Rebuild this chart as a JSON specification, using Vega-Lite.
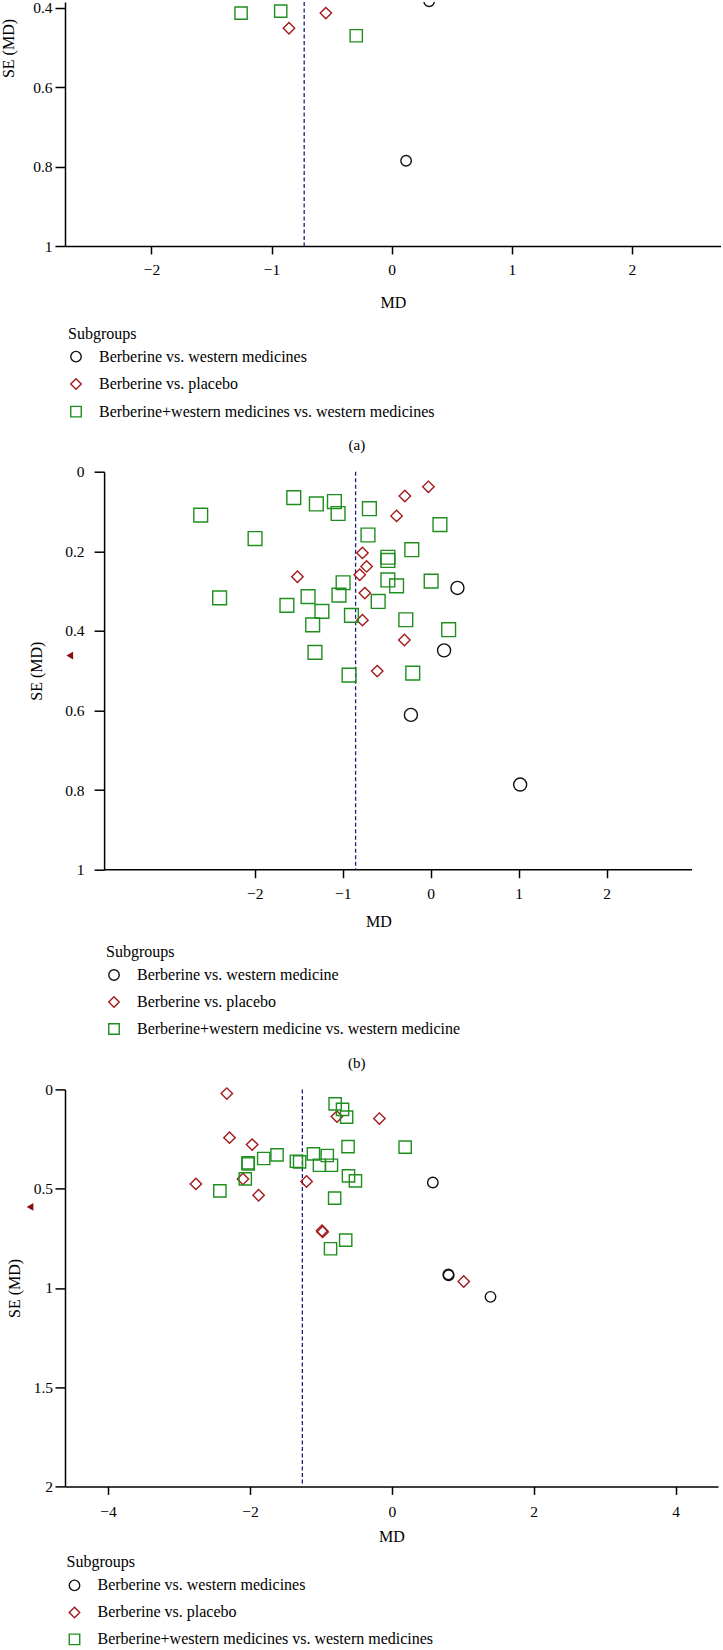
{
  "$schema": "https://vega.github.io/schema/vega-lite/v6.json",
  "padding": 0,
  "spacing": 11.7,
  "background": "white",
  "config": {
    "font": "Liberation Serif",
    "view": {"stroke": null},
    "axis": {
      "grid": false,
      "domainColor": "#000000",
      "domainWidth": 1.5,
      "tickColor": "#000000",
      "tickWidth": 1.5,
      "labelColor": "#000000",
      "labelFont": "Liberation Serif",
      "labelFontSize": 15.5,
      "titleFont": "Liberation Serif",
      "titleFontSize": 16,
      "titleFontWeight": "normal",
      "titleColor": "#000000",
      "labelFlush": false,
      "labelOverlap": false,
      "format": "~g"
    },
    "axisY": {"labelAlign": "right", "labelBaseline": "middle"},
    "legend": {
      "padding": 0,
      "titleFont": "Liberation Serif",
      "titleFontSize": 16,
      "titleFontWeight": "normal",
      "titleColor": "#000000",
      "labelFont": "Liberation Serif",
      "labelFontSize": 16,
      "labelColor": "#000000",
      "labelLimit": 0,
      "symbolSize": 110,
      "symbolStrokeWidth": 1.4,
      "labelOffset": 15,
      "titlePadding": 7
    },
    "title": {"font": "Liberation Serif", "fontSize": 15, "fontWeight": "normal", "color": "#000000"}
  },
  "resolve": {
    "scale": {"x": "independent", "y": "independent", "color": "independent", "shape": "independent"},
    "legend": {"color": "independent", "shape": "independent"}
  },
  "vconcat": [
    {
      "width": 656,
      "height": 244,
      "title": {"text": "(a)", "orient": "bottom", "anchor": "middle", "frame": "bounds", "offset": 17, "dx": -4},
      "layer": [
        {
          "data": {"values": [{"line": "pooled"}]},
          "mark": {"type": "rule", "color": "#1b1f7a", "strokeDash": [4, 2.5], "strokeWidth": 1.3},
          "encoding": {"x": {"datum": -0.7285, "type": "quantitative"}}
        },
        {
          "data": {"values": [
            {"MD": 0.312, "SE": 0.383, "group": "Berberine vs. western medicines"},
            {"MD": 0.120, "SE": 0.785, "group": "Berberine vs. western medicines"},
            {"MD": -0.855, "SE": 0.451, "group": "Berberine vs. placebo"},
            {"MD": -0.548, "SE": 0.413, "group": "Berberine vs. placebo"},
            {"MD": -1.254, "SE": 0.413, "group": "Berberine+western medicines vs. western medicines"},
            {"MD": -0.924, "SE": 0.408, "group": "Berberine+western medicines vs. western medicines"},
            {"MD": -0.295, "SE": 0.470, "group": "Berberine+western medicines vs. western medicines"}
          ]},
          "mark": {"type": "point", "filled": false, "strokeWidth": 1.4, "opacity": 1, "clip": true},
          "encoding": {
            "x": {"field": "MD", "type": "quantitative",
              "scale": {"domain": [-2.72, 2.742], "nice": false, "zero": false},
              "axis": {"values": [-2, -1, 0, 1, 2], "tickSize": 8, "labelPadding": 8, "title": "MD", "titlePadding": 16.5}},
            "y": {"field": "SE", "type": "quantitative",
              "scale": {"domain": [0.385, 1], "reverse": true, "nice": false, "zero": false},
              "axis": {"values": [0.4, 0.6, 0.8, 1], "tickSize": 10, "labelPadding": 3, "title": "SE (MD)", "titlePadding": 16, "titleY": 46}},
            "color": {"field": "group", "type": "nominal",
              "scale": {"domain": ["Berberine vs. western medicines", "Berberine vs. placebo", "Berberine+western medicines vs. western medicines"], "range": ["#111111", "#a3191b", "#1e8e1e"]},
              "legend": {"orient": "none", "legendX": 3, "legendY": 323.6, "title": "\u00a0\u00a0\u00a0Subgroups", "rowPadding": 9.5}},
            "shape": {"field": "group", "type": "nominal",
              "scale": {"domain": ["Berberine vs. western medicines", "Berberine vs. placebo", "Berberine+western medicines vs. western medicines"], "range": ["circle", "diamond", "square"]},
              "legend": {"orient": "none", "legendX": 3, "legendY": 323.6, "title": "\u00a0\u00a0\u00a0Subgroups", "rowPadding": 9.5}},
            "size": {"field": "group", "type": "nominal", "legend": null,
              "scale": {"domain": ["Berberine vs. western medicines", "Berberine vs. placebo", "Berberine+western medicines vs. western medicines"], "range": [110, 190, 85]}}
          }
        }
      ]
    },
    {
      "width": 627,
      "height": 398,
      "title": {"text": "(b)", "orient": "bottom", "anchor": "middle", "frame": "bounds", "offset": 17.5, "dx": -4},
      "layer": [
        {
          "data": {"values": [{"line": "pooled"}]},
          "mark": {"type": "rule", "color": "#1b1f7a", "strokeDash": [4, 2.5], "strokeWidth": 1.3},
          "encoding": {"x": {"datum": -0.854, "type": "quantitative"}}
        },
        {
          "data": {"values": [{"line": "axis"}]},
          "mark": {"type": "rule", "color": "#000000", "strokeWidth": 1.5},
          "encoding": {"x": {"datum": -3.713, "type": "quantitative"}, "x2": {"datum": 2.971}, "y": {"datum": 1, "type": "quantitative"}}
        },
        {
          "data": {"values": [
            {"MD": -4.104, "SE": 0.462}
          ]},
          "mark": {"type": "point", "shape": "triangle-left", "filled": true, "color": "#8b0d0d", "size": 60, "opacity": 1},
          "encoding": {"x": {"field": "MD", "type": "quantitative"}, "y": {"field": "SE", "type": "quantitative"}}
        },
        {
          "data": {"values": [
            {"MD": 0.304, "SE": 0.292, "group": "Berberine vs. western medicine"},
            {"MD": 0.152, "SE": 0.449, "group": "Berberine vs. western medicine"},
            {"MD": -0.225, "SE": 0.611, "group": "Berberine vs. western medicine"},
            {"MD": 1.017, "SE": 0.786, "group": "Berberine vs. western medicine"},
            {"MD": -0.026, "SE": 0.038, "group": "Berberine vs. placebo"},
            {"MD": -0.294, "SE": 0.061, "group": "Berberine vs. placebo"},
            {"MD": -0.388, "SE": 0.111, "group": "Berberine vs. placebo"},
            {"MD": -0.776, "SE": 0.204, "group": "Berberine vs. placebo"},
            {"MD": -0.729, "SE": 0.238, "group": "Berberine vs. placebo"},
            {"MD": -0.807, "SE": 0.259, "group": "Berberine vs. placebo"},
            {"MD": -1.515, "SE": 0.264, "group": "Berberine vs. placebo"},
            {"MD": -0.749, "SE": 0.305, "group": "Berberine vs. placebo"},
            {"MD": -0.776, "SE": 0.373, "group": "Berberine vs. placebo"},
            {"MD": -0.299, "SE": 0.423, "group": "Berberine vs. placebo"},
            {"MD": -0.608, "SE": 0.501, "group": "Berberine vs. placebo"},
            {"MD": -2.615, "SE": 0.109, "group": "Berberine+western medicine vs. western medicine"},
            {"MD": -1.997, "SE": 0.168, "group": "Berberine+western medicine vs. western medicine"},
            {"MD": -1.557, "SE": 0.065, "group": "Berberine+western medicine vs. western medicine"},
            {"MD": -1.300, "SE": 0.081, "group": "Berberine+western medicine vs. western medicine"},
            {"MD": -1.095, "SE": 0.075, "group": "Berberine+western medicine vs. western medicine"},
            {"MD": -1.053, "SE": 0.105, "group": "Berberine+western medicine vs. western medicine"},
            {"MD": -0.697, "SE": 0.093, "group": "Berberine+western medicine vs. western medicine"},
            {"MD": -0.713, "SE": 0.159, "group": "Berberine+western medicine vs. western medicine"},
            {"MD": 0.105, "SE": 0.133, "group": "Berberine+western medicine vs. western medicine"},
            {"MD": -0.215, "SE": 0.196, "group": "Berberine+western medicine vs. western medicine"},
            {"MD": -0.487, "SE": 0.215, "group": "Berberine+western medicine vs. western medicine"},
            {"MD": -0.487, "SE": 0.223, "group": "Berberine+western medicine vs. western medicine"},
            {"MD": -0.996, "SE": 0.279, "group": "Berberine+western medicine vs. western medicine"},
            {"MD": -0.487, "SE": 0.272, "group": "Berberine+western medicine vs. western medicine"},
            {"MD": -0.388, "SE": 0.287, "group": "Berberine+western medicine vs. western medicine"},
            {"MD": 0.005, "SE": 0.275, "group": "Berberine+western medicine vs. western medicine"},
            {"MD": -2.400, "SE": 0.317, "group": "Berberine+western medicine vs. western medicine"},
            {"MD": -1.394, "SE": 0.314, "group": "Berberine+western medicine vs. western medicine"},
            {"MD": -1.043, "SE": 0.310, "group": "Berberine+western medicine vs. western medicine"},
            {"MD": -1.635, "SE": 0.336, "group": "Berberine+western medicine vs. western medicine"},
            {"MD": -1.237, "SE": 0.351, "group": "Berberine+western medicine vs. western medicine"},
            {"MD": -0.597, "SE": 0.326, "group": "Berberine+western medicine vs. western medicine"},
            {"MD": -0.901, "SE": 0.361, "group": "Berberine+western medicine vs. western medicine"},
            {"MD": -1.342, "SE": 0.385, "group": "Berberine+western medicine vs. western medicine"},
            {"MD": -0.283, "SE": 0.372, "group": "Berberine+western medicine vs. western medicine"},
            {"MD": 0.204, "SE": 0.397, "group": "Berberine+western medicine vs. western medicine"},
            {"MD": -1.316, "SE": 0.454, "group": "Berberine+western medicine vs. western medicine"},
            {"MD": -0.928, "SE": 0.511, "group": "Berberine+western medicine vs. western medicine"},
            {"MD": -0.204, "SE": 0.506, "group": "Berberine+western medicine vs. western medicine"}
          ]},
          "mark": {"type": "point", "filled": false, "strokeWidth": 1.4, "opacity": 1},
          "encoding": {
            "x": {"field": "MD", "type": "quantitative",
              "scale": {"domain": [-4.158, 2.971], "nice": false, "zero": false},
              "axis": {"values": [-2, -1, 0, 1, 2], "domain": false, "tickSize": 8, "labelPadding": 8.5, "title": "MD", "titlePadding": 11.5}},
            "y": {"field": "SE", "type": "quantitative",
              "scale": {"domain": [0, 1], "reverse": true, "nice": false, "zero": false},
              "axis": {"values": [0, 0.2, 0.4, 0.6, 0.8, 1], "offset": -39.1, "tickSize": 10, "labelPadding": 10, "title": "SE (MD)", "titlePadding": 20}},
            "color": {"field": "group", "type": "nominal",
              "scale": {"domain": ["Berberine vs. western medicine", "Berberine vs. placebo", "Berberine+western medicine vs. western medicine"], "range": ["#111111", "#a3191b", "#1e8e1e"]},
              "legend": {"orient": "none", "legendX": 41, "legendY": 472.3, "title": "\u00a0\u00a0\u00a0Subgroups", "rowPadding": 9}},
            "shape": {"field": "group", "type": "nominal",
              "scale": {"domain": ["Berberine vs. western medicine", "Berberine vs. placebo", "Berberine+western medicine vs. western medicine"], "range": ["circle", "diamond", "square"]},
              "legend": {"orient": "none", "legendX": 41, "legendY": 472.3, "title": "\u00a0\u00a0\u00a0Subgroups", "rowPadding": 9}},
            "size": {"field": "group", "type": "nominal", "legend": null,
              "scale": {"domain": ["Berberine vs. western medicine", "Berberine vs. placebo", "Berberine+western medicine vs. western medicine"], "range": [110, 190, 85]}}
          }
        }
      ]
    },
    {
      "width": 653,
      "height": 397,
      "layer": [
        {
          "data": {"values": [{"line": "pooled"}]},
          "mark": {"type": "rule", "color": "#1b1f7a", "strokeDash": [4, 2.5], "strokeWidth": 1.3},
          "encoding": {"x": {"datum": -1.261, "type": "quantitative"}}
        },
        {
          "data": {"values": [
            {"MD": -5.10, "SE": 0.592}
          ]},
          "mark": {"type": "point", "shape": "triangle-left", "filled": true, "color": "#8b0d0d", "size": 60, "opacity": 1},
          "encoding": {"x": {"field": "MD", "type": "quantitative"}, "y": {"field": "SE", "type": "quantitative"}}
        },
        {
          "data": {"values": [
            {"MD": 0.578, "SE": 0.469, "group": "Berberine vs. western medicines"},
            {"MD": 0.797, "SE": 0.932, "group": "Berberine vs. western medicines"},
            {"MD": 0.801, "SE": 0.936, "group": "Berberine vs. western medicines"},
            {"MD": 1.391, "SE": 1.045, "group": "Berberine vs. western medicines"},
            {"MD": -2.326, "SE": 0.021, "group": "Berberine vs. placebo"},
            {"MD": -0.774, "SE": 0.137, "group": "Berberine vs. placebo"},
            {"MD": -0.175, "SE": 0.147, "group": "Berberine vs. placebo"},
            {"MD": -2.288, "SE": 0.243, "group": "Berberine vs. placebo"},
            {"MD": -1.969, "SE": 0.278, "group": "Berberine vs. placebo"},
            {"MD": -2.762, "SE": 0.476, "group": "Berberine vs. placebo"},
            {"MD": -2.099, "SE": 0.451, "group": "Berberine vs. placebo"},
            {"MD": -1.878, "SE": 0.533, "group": "Berberine vs. placebo"},
            {"MD": -1.202, "SE": 0.464, "group": "Berberine vs. placebo"},
            {"MD": -0.984, "SE": 0.712, "group": "Berberine vs. placebo"},
            {"MD": -0.975, "SE": 0.718, "group": "Berberine vs. placebo"},
            {"MD": 1.014, "SE": 0.968, "group": "Berberine vs. placebo"},
            {"MD": -0.799, "SE": 0.073, "group": "Berberine+western medicines vs. western medicines"},
            {"MD": -0.695, "SE": 0.101, "group": "Berberine+western medicines vs. western medicines"},
            {"MD": -0.637, "SE": 0.140, "group": "Berberine+western medicines vs. western medicines"},
            {"MD": -0.617, "SE": 0.288, "group": "Berberine+western medicines vs. western medicines"},
            {"MD": 0.188, "SE": 0.291, "group": "Berberine+western medicines vs. western medicines"},
            {"MD": -1.105, "SE": 0.325, "group": "Berberine+western medicines vs. western medicines"},
            {"MD": -0.910, "SE": 0.333, "group": "Berberine+western medicines vs. western medicines"},
            {"MD": -1.618, "SE": 0.330, "group": "Berberine+western medicines vs. western medicines"},
            {"MD": -1.806, "SE": 0.348, "group": "Berberine+western medicines vs. western medicines"},
            {"MD": -2.027, "SE": 0.370, "group": "Berberine+western medicines vs. western medicines"},
            {"MD": -2.024, "SE": 0.376, "group": "Berberine+western medicines vs. western medicines"},
            {"MD": -1.345, "SE": 0.362, "group": "Berberine+western medicines vs. western medicines"},
            {"MD": -1.300, "SE": 0.365, "group": "Berberine+western medicines vs. western medicines"},
            {"MD": -1.020, "SE": 0.382, "group": "Berberine+western medicines vs. western medicines"},
            {"MD": -0.851, "SE": 0.382, "group": "Berberine+western medicines vs. western medicines"},
            {"MD": -0.611, "SE": 0.436, "group": "Berberine+western medicines vs. western medicines"},
            {"MD": -0.513, "SE": 0.461, "group": "Berberine+western medicines vs. western medicines"},
            {"MD": -2.066, "SE": 0.451, "group": "Berberine+western medicines vs. western medicines"},
            {"MD": -2.424, "SE": 0.511, "group": "Berberine+western medicines vs. western medicines"},
            {"MD": -0.806, "SE": 0.548, "group": "Berberine+western medicines vs. western medicines"},
            {"MD": -0.650, "SE": 0.759, "group": "Berberine+western medicines vs. western medicines"},
            {"MD": -0.864, "SE": 0.803, "group": "Berberine+western medicines vs. western medicines"}
          ]},
          "mark": {"type": "point", "filled": false, "strokeWidth": 1.4, "opacity": 1},
          "encoding": {
            "x": {"field": "MD", "type": "quantitative",
              "scale": {"domain": [-4.607, 4.598], "nice": false, "zero": false},
              "axis": {"values": [-4, -2, 0, 2, 4], "tickSize": 8, "labelPadding": 10, "title": "MD", "titlePadding": 9}},
            "y": {"field": "SE", "type": "quantitative",
              "scale": {"domain": [0, 2], "reverse": true, "nice": false, "zero": false},
              "axis": {"values": [0, 0.5, 1, 1.5, 2], "tickSize": 10, "labelPadding": 2.5, "title": "SE (MD)", "titlePadding": 11}},
            "color": {"field": "group", "type": "nominal",
              "scale": {"domain": ["Berberine vs. western medicines", "Berberine vs. placebo", "Berberine+western medicines vs. western medicines"], "range": ["#111111", "#a3191b", "#1e8e1e"]},
              "legend": {"orient": "none", "legendX": 1.5, "legendY": 465, "title": "\u00a0\u00a0\u00a0Subgroups", "rowPadding": 9}},
            "shape": {"field": "group", "type": "nominal",
              "scale": {"domain": ["Berberine vs. western medicines", "Berberine vs. placebo", "Berberine+western medicines vs. western medicines"], "range": ["circle", "diamond", "square"]},
              "legend": {"orient": "none", "legendX": 1.5, "legendY": 465, "title": "\u00a0\u00a0\u00a0Subgroups", "rowPadding": 9}},
            "size": {"field": "group", "type": "nominal", "legend": null,
              "scale": {"domain": ["Berberine vs. western medicines", "Berberine vs. placebo", "Berberine+western medicines vs. western medicines"], "range": [110, 190, 85]}}
          }
        }
      ]
    }
  ]
}
